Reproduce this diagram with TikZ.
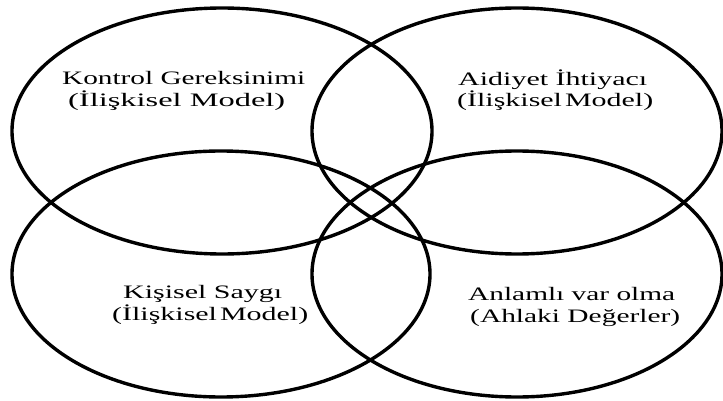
\documentclass[tikz,border=0pt]{standalone}
\usepackage{fontspec}
\setmainfont{Liberation Serif}
\usepackage{graphicx}
\begin{document}
\begin{tikzpicture}[x=1pt,y=-1pt,
  ring/.style={draw=black,line width=3.4pt},
  lbl/.style={anchor=base west,inner sep=0pt,font=\fontsize{19}{22}\selectfont}]
\useasboundingbox[fill=white] (0,0) rectangle (723,401);
\draw[ring] (222,131) ellipse [x radius=210pt,y radius=123pt];
\draw[ring] (517,131) ellipse [x radius=205pt,y radius=123pt];
\draw[ring] (221,274) ellipse [x radius=209pt,y radius=123pt];
\draw[ring] (517,274) ellipse [x radius=205pt,y radius=123pt];
\node[lbl] (t1a) at (62,85)  {\resizebox{243pt}{\height}{Kontrol Gereksinimi}};
\node[lbl] (t1b) at (68,107) {\resizebox{217pt}{\height}{(İlişkisel Model)}};
\node[lbl] (t2a) at (458,86) {\resizebox{189pt}{\height}{Aidiyet İhtiyacı}};
\node[lbl] (t2b) at (457,107) {\resizebox{196pt}{\height}{(İlişkisel\hspace{0.1em}Model)}};
\node[lbl] (t3a) at (123,298) {\resizebox{159pt}{\height}{Kişisel Saygı}};
\node[lbl] (t3b) at (112,320) {\resizebox{196pt}{\height}{(İlişkisel\hspace{0.1em}Model)}};
\node[lbl] (t4a) at (468,300) {\resizebox{207pt}{\height}{Anlamlı var olma}};
\node[lbl] (t4b) at (470,322) {\resizebox{210pt}{\height}{(Ahlaki Değerler)}};
\end{tikzpicture}
\end{document}
